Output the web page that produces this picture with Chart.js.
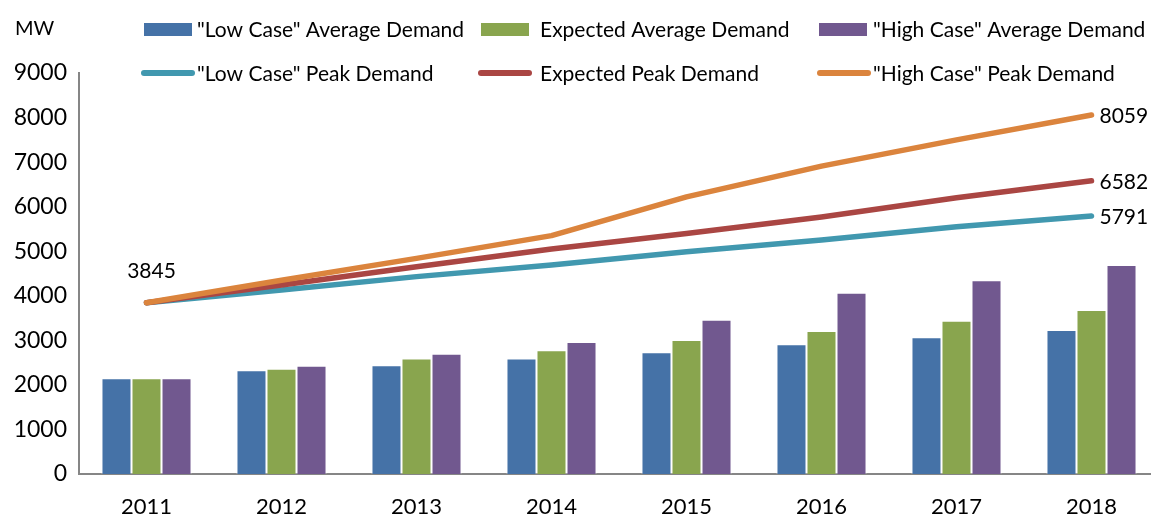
<!DOCTYPE html>
<html>
<head>
<meta charset="utf-8">
<script src="https://cdn.jsdelivr.net/npm/chart.js@4.4.0/dist/chart.umd.min.js"></script>
<style>
  html, body { margin: 0; padding: 0; background: #fff; overflow: hidden; }
  /* the plot runs slightly past the right edge in the original, so the canvas is wider and clipped */
  #wrap { position: relative; width: 1151px; height: 514px; overflow: hidden; }
</style>
</head>
<body>
<div id="wrap"><canvas id="demandChart" width="1170" height="514"></canvas></div>
<script>
const years = ['2011', '2012', '2013', '2014', '2015', '2016', '2017', '2018'];

const lowAvg = [2150, 2330, 2440, 2590, 2730, 2910, 3070, 3230];
const expAvg = [2150, 2360, 2590, 2780, 3010, 3210, 3440, 3680];
const highAvg = [2150, 2430, 2700, 2960, 3460, 4070, 4350, 4690];

const lowPeak = [3845, 4130, 4430, 4690, 4990, 5250, 5550, 5791];
const expPeak = [3845, 4240, 4650, 5050, 5400, 5770, 6200, 6582];
const highPeak = [3845, 4350, 4840, 5350, 6220, 6910, 7500, 8059];

const yTicks = [0, 1000, 2000, 3000, 4000, 5000, 6000, 7000, 8000, 9000];

const FONT = 'Lato, "Open Sans", sans-serif';

// legend drawn by hand: two rows of three aligned columns
const legendPlugin = {
    id: 'gridLegend',
    afterDraw(chart) {
        const ctx = chart.ctx;
        const boxX = [144, 481, 819];
        const lineX = [141, 478, 817];
        const textX = [197, 540, 873];
        const rows = [29, 73];
        ctx.save();
        ctx.font = '21px ' + FONT;
        ctx.textBaseline = 'middle';
        chart.data.datasets.forEach((ds, i) => {
            const c = i % 3;
            const y = rows[Math.floor(i / 3)];
            if (ds.type === 'bar') {
                ctx.fillStyle = ds.backgroundColor;
                ctx.fillRect(boxX[c], y - 6, 48, 13);
            } else {
                ctx.strokeStyle = ds.borderColor;
                ctx.lineWidth = 6;
                ctx.lineCap = 'round';
                ctx.beginPath();
                ctx.moveTo(lineX[c] + 3, y);
                ctx.lineTo(lineX[c] + 51, y);
                ctx.stroke();
            }
            ctx.fillStyle = '#000';
            ctx.fillText(ds.label, textX[c], y + 1);
        });
        // unit label
        ctx.font = '20px ' + FONT;
        ctx.fillText('MW', 15, 29);
        ctx.restore();
    }
};

// value labels at first and last points of the peak lines
const valueLabels = {
    id: 'valueLabels',
    afterDatasetsDraw(chart) {
        const ctx = chart.ctx;
        const xs = chart.scales.x, ys = chart.scales.y;
        ctx.save();
        ctx.font = '21px ' + FONT;
        ctx.fillStyle = '#000';
        ctx.textBaseline = 'middle';
        ctx.textAlign = 'center';
        ctx.fillText(String(highPeak[0]), xs.getPixelForValue(0) + 5, ys.getPixelForValue(highPeak[0]) - 31);
        ctx.textAlign = 'left';
        const last = years.length - 1;
        [highPeak, expPeak, lowPeak].forEach(arr => {
            ctx.fillText(String(arr[last]), xs.getPixelForValue(last) + 8, ys.getPixelForValue(arr[last]) + 1);
        });
        ctx.restore();
    }
};

function lineSet(label, data, color, order) {
    return {
        type: 'line', label, data, order,
        borderColor: color, backgroundColor: color,
        borderWidth: 5.5, borderCapStyle: 'round', borderJoinStyle: 'round',
        pointRadius: 0, tension: 0, fill: false
    };
}

function barSet(label, data, color) {
    return {
        type: 'bar', label, data, order: 5,
        backgroundColor: color, borderColor: 'rgba(255,255,255,0.6)', borderWidth: 1,
        categoryPercentage: 0.667, barPercentage: 1.0
    };
}

new Chart(document.getElementById('demandChart'), {
    data: {
        labels: years,
        datasets: [
            barSet('"Low Case" Average Demand', lowAvg, '#4572A7'),
            barSet('Expected Average Demand', expAvg, '#89A54E'),
            barSet('"High Case" Average Demand', highAvg, '#71588F'),
            lineSet('"Low Case" Peak Demand', lowPeak, '#4198AF', 3),
            lineSet('Expected Peak Demand', expPeak, '#AA4643', 2),
            lineSet('"High Case" Peak Demand', highPeak, '#DB843D', 1)
        ]
    },
    options: {
        responsive: false,
        animation: false,
        layout: { padding: { top: 73, right: 11, left: 0, bottom: 0 } },
        plugins: {
            legend: { display: false },
            tooltip: { enabled: false }
        },
        scales: {
            x: {
                grid: { display: false, drawTicks: false },
                border: { color: '#868686', width: 2 },
                ticks: { color: '#000', font: { family: FONT, size: 22 }, padding: 20 },
                afterFit(scale) { scale.height = 40; }
            },
            y: {
                min: 0, max: 9000,
                afterBuildTicks(scale) { scale.ticks = yTicks.map(v => ({ value: v })); },
                grid: { display: false, drawOnChartArea: false, drawTicks: true, tickLength: 8, tickColor: '#868686', tickWidth: 2 },
                border: { color: '#868686', width: 2 },
                ticks: {
                    color: '#000', font: { family: FONT, size: 23 }, padding: 4,
                    callback: v => String(v)
                },
                afterFit(scale) { scale.width = 79; }
            }
        }
    },
    plugins: [legendPlugin, valueLabels]
});
</script>
</body>
</html>
